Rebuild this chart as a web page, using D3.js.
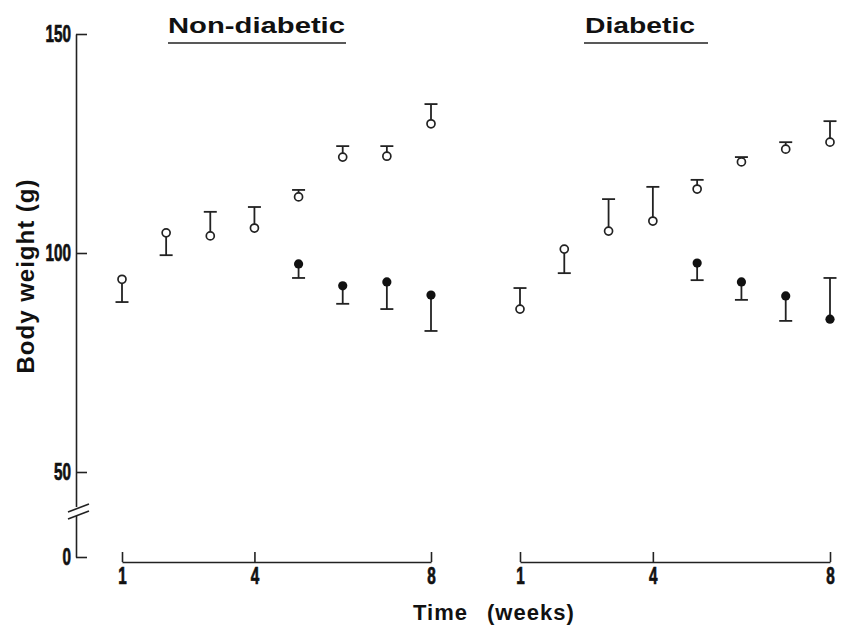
<!DOCTYPE html>
<html lang='en'>
	<head>
		<meta charset='utf-8'>
		<title>Body weight</title>
		<script type='text/javascript' src='https://d3js.org/d3.v7.min.js'></script>
		<style type='text/css'>
			body { margin: 0; background: white; }
			text { font-family: 'Liberation Sans', Arial, sans-serif; font-weight: bold; fill: #111; }
			.axis path, .axis line { stroke: #222; stroke-width: 1.6; }
		</style>
	</head>
	<body>
		<script type='text/javascript'>
			// weeks and group names
			var weeks = [1, 2, 3, 4, 5, 6, 7, 8];
			var panels = ['Non-diabetic', 'Diabetic'];
			var yTicks = [0, 50, 100, 150];
			var xTicks = [1, 4, 8];

			// open circles (control), mean and error-bar end
			var nonDiabOpen = [94, 104.6, 103.9, 105.7, 112.8, 121.9, 122.1, 129.5];
			var nonDiabOpenErr = [88.8, 99.5, 109.4, 110.5, 114.4, 124.4, 124.4, 134.0];
			// filled circles (treated), weeks 5-8
			var nonDiabFilled = [97.5, 92.5, 93.4, 90.4];
			var nonDiabFilledErr = [94.3, 88.4, 87.2, 82.2];

			var diabOpen = [87.2, 100.9, 105.0, 107.3, 114.6, 120.8, 123.7, 125.3];
			var diabOpenErr = [92.0, 95.4, 112.3, 115.1, 116.7, 121.9, 125.3, 130.1];
			var diabFilled = [97.7, 93.4, 90.2, 84.9];
			var diabFilledErr = [93.8, 89.3, 84.5, 94.3];

			var w = 846;
			var h = 630;

			var svg = d3.select('body')
									.append('svg')
									.attr('width', w)
									.attr('height', h);

			// broken y axis: 0 sits below the break
			var yScale = d3.scaleLinear()
										.domain([0, 50, 150])
										.range([557, 472, 34]);

			var xScales = [
				d3.scaleLinear().domain([1, 8]).range([122, 431]),
				d3.scaleLinear().domain([1, 8]).range([520, 830])
			];

			// narrow, tall, heavy digits like the original typeface
			function squeeze(sel) {
				sel.selectAll('.tick text')
					.style('font-size', '23px')
					.style('font-family', "'Liberation Sans', sans-serif")
					.style('font-weight', 'bold')
					.style('stroke', '#111')
					.style('stroke-width', '0.7px')
					.attr('textLength', function() { return this.textContent.length * 8.5; })
					.attr('lengthAdjust', 'spacingAndGlyphs');
			}

			var yAxis = d3.axisRight(yScale)
										.tickValues(yTicks)
										.tickSize(11)
										.tickSizeOuter(0)
										.tickFormat(d3.format('d'));

			var gy = svg.append('g')
				.attr('class', 'axis')
				.attr('transform', 'translate(76,0)')
				.call(yAxis);
			gy.selectAll('text')
				.attr('x', -5)
				.attr('text-anchor', 'end');
			squeeze(gy);

			// axis break
			gy.append('rect')
				.attr('x', -4).attr('y', 507)
				.attr('width', 8).attr('height', 9)
				.attr('fill', 'white');
			gy.append('line')
				.attr('x1', -8).attr('y1', 512).attr('x2', 13).attr('y2', 504)
				.attr('stroke', '#222').attr('stroke-width', 1.6);
			gy.append('line')
				.attr('x1', -8).attr('y1', 519).attr('x2', 13).attr('y2', 511)
				.attr('stroke', '#222').attr('stroke-width', 1.6);

			svg.append('text')
				.attr('transform', 'translate(34,' + 276 + ') rotate(-90)')
				.attr('text-anchor', 'middle')
				.style('font-size', '24px')
				.style('letter-spacing', '1px')
				.text('Body weight (g)');

			var groups = [
				{ open: nonDiabOpen, openErr: nonDiabOpenErr, filled: nonDiabFilled, filledErr: nonDiabFilledErr },
				{ open: diabOpen, openErr: diabOpenErr, filled: diabFilled, filledErr: diabFilledErr }
			];

			groups.forEach(function(g, p) {
				var xScale = xScales[p];

				var xAxis = d3.axisBottom(xScale)
											.tickValues(xTicks)
											.tickSize(-10)
											.tickSizeOuter(0)
											.tickPadding(6)
											.tickFormat(d3.format('d'));

				var gx = svg.append('g')
					.attr('class', 'axis')
					.attr('transform', 'translate(0,562)')
					.call(xAxis);
				squeeze(gx);

				// panel title with underline
				svg.append('text')
					.attr('x', p === 0 ? 168 : 585)
					.attr('y', 33)
					.attr('textLength', p === 0 ? 177 : 110)
					.attr('lengthAdjust', 'spacingAndGlyphs')
					.style('font-size', '22px')
					.text(panels[p]);
				svg.append('line')
					.attr('x1', p === 0 ? 168 : 584)
					.attr('x2', p === 0 ? 346 : 708)
					.attr('y1', 43).attr('y2', 43)
					.attr('stroke', '#222').attr('stroke-width', 1.6);

				var openData = weeks.map(function(wk, i) {
					return { week: wk, v: g.open[i], e: g.openErr[i] };
				});
				var filledData = weeks.slice(4).map(function(wk, i) {
					return { week: wk, v: g.filled[i], e: g.filledErr[i] };
				});

				var all = openData.concat(filledData);

				// error bars
				var bars = svg.append('g');
				bars.selectAll('line.stem')
					.data(all)
					.enter()
					.append('line')
					.attr('x1', function(d) { return xScale(d.week); })
					.attr('x2', function(d) { return xScale(d.week); })
					.attr('y1', function(d) { return yScale(d.v); })
					.attr('y2', function(d) { return yScale(d.e); })
					.attr('stroke', '#222')
					.attr('stroke-width', 1.8);
				bars.selectAll('line.cap')
					.data(all)
					.enter()
					.append('line')
					.attr('x1', function(d) { return xScale(d.week) - 6.5; })
					.attr('x2', function(d) { return xScale(d.week) + 6.5; })
					.attr('y1', function(d) { return yScale(d.e); })
					.attr('y2', function(d) { return yScale(d.e); })
					.attr('stroke', '#222')
					.attr('stroke-width', 1.8);

				svg.append('g').selectAll('circle')
					.data(openData)
					.enter()
					.append('circle')
					.attr('cx', function(d) { return xScale(d.week); })
					.attr('cy', function(d) { return yScale(d.v); })
					.attr('r', 4)
					.attr('fill', 'white')
					.attr('stroke', '#222')
					.attr('stroke-width', 1.7);

				svg.append('g').selectAll('circle')
					.data(filledData)
					.enter()
					.append('circle')
					.attr('cx', function(d) { return xScale(d.week); })
					.attr('cy', function(d) { return yScale(d.v); })
					.attr('r', 4.6)
					.attr('fill', '#111');
			});

			svg.append('text')
				.attr('x', 468)
				.attr('y', 620)
				.attr('text-anchor', 'end')
				.style('font-size', '22px')
				.style('letter-spacing', '1px')
				.text('Time');
			svg.append('text')
				.attr('x', 487)
				.attr('y', 620)
				.style('font-size', '22px')
				.style('letter-spacing', '1px')
				.text('(weeks)');
		</script>
	</body>
</html>
